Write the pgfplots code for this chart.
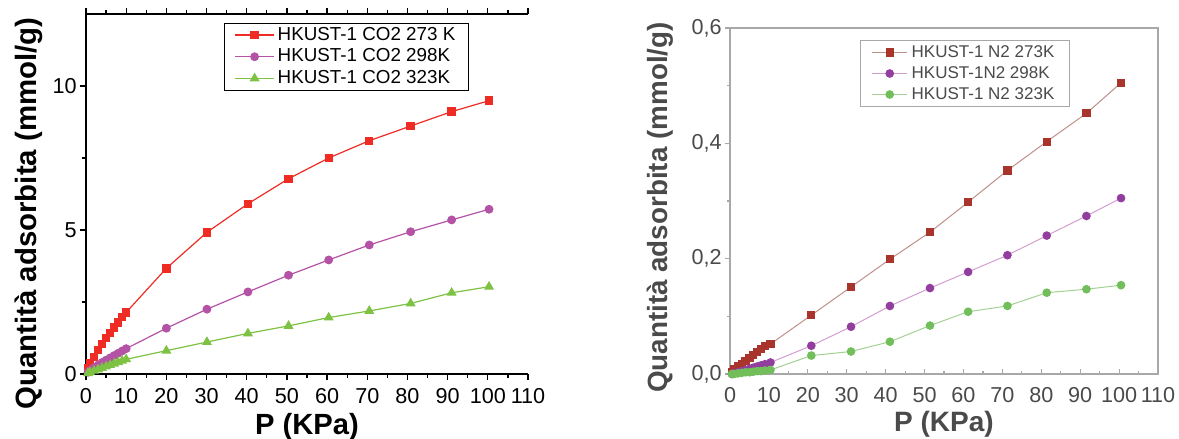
\documentclass[border=0pt]{standalone}
\usepackage{pgfplots}
\pgfplotsset{compat=1.18}
\usepackage{pgfplotstable}
\usepackage{fontspec}
\setmainfont{Liberation Sans}

\definecolor{cred}{HTML}{EE2C24}
\definecolor{cpur}{HTML}{B453A6}
\definecolor{cgrn}{HTML}{7DC242}
\definecolor{nred}{HTML}{A8342C}
\definecolor{npur}{HTML}{923E9E}
\definecolor{ngrn}{HTML}{72BE5A}
\definecolor{nredl}{HTML}{BF8F8A}
\definecolor{npurl}{HTML}{D39ECF}
\definecolor{ngrnl}{HTML}{A3D194}
\definecolor{raxis}{HTML}{A8A8A8}
\definecolor{rtext}{HTML}{4A4A4A}

\pgfplotstableread{
x y
0.5 0.20
1 0.36
2 0.60
3 0.83
4 1.04
5 1.24
6 1.43
7 1.61
8 1.79
9 1.97
10 2.14
20 3.67
30.1 4.92
40.3 5.91
50.4 6.78
60.4 7.50
70.5 8.10
80.8 8.61
91.0 9.11
100.3 9.49
}\coA
\pgfplotstableread{
x y
0.5 0.06
1 0.12
2 0.22
3 0.31
4 0.40
5 0.48
6 0.56
7 0.64
8 0.72
9 0.80
10 0.88
20 1.59
30.1 2.25
40.3 2.85
50.4 3.43
60.4 3.96
70.5 4.48
80.8 4.94
91.0 5.35
100.3 5.72
}\coB
\pgfplotstableread{
x y
0.5 0.03
1 0.06
2 0.11
3 0.16
4 0.21
5 0.26
6 0.31
7 0.36
8 0.41
9 0.46
10 0.51
20 0.81
30.1 1.11
40.3 1.41
50.4 1.67
60.4 1.96
70.5 2.19
80.8 2.45
91.0 2.82
100.3 3.03
}\coC
\pgfplotstableread{
x y
0.5 0.004
1 0.008
2 0.013
3 0.018
4 0.023
5 0.028
6 0.033
7 0.038
8 0.043
9 0.048
10.4 0.052
20.9 0.102
31.1 0.151
41.1 0.199
51.4 0.246
61.2 0.298
71.3 0.353
81.4 0.403
91.6 0.452
100.5 0.505
}\nA
\pgfplotstableread{
x y
0.5 0.000
1 0.001
2 0.003
3 0.005
4 0.007
5 0.009
6 0.011
7 0.013
8 0.015
9 0.017
10.4 0.020
20.9 0.049
31.1 0.082
41.1 0.118
51.4 0.149
61.2 0.177
71.3 0.206
81.4 0.240
91.6 0.274
100.5 0.305
}\nB
\pgfplotstableread{
x y
0.5 0.000
1 0.000
2 0.001
3 0.002
4 0.003
5 0.003
6 0.004
7 0.005
8 0.005
9 0.006
10.4 0.007
20.9 0.032
31.1 0.039
41.1 0.056
51.4 0.084
61.2 0.108
71.3 0.118
81.4 0.141
91.6 0.147
100.5 0.154
}\nC

\begin{document}
\begin{tikzpicture}
\useasboundingbox (0,0) rectangle (589.5bp,219.5bp);
% ---------------- left: CO2
\begin{axis}[
  at={(43bp,32.5bp)}, anchor=south west,
  scale only axis, width=221bp, height=180bp,
  xmin=0, xmax=110, ymin=0, ymax=12.5,
  xtick={0,10,...,110}, ytick={0,5,10},
  minor x tick num=1, minor y tick num=1,
  axis y line*=left,
  axis line style={line width=0.6bp},
  every tick/.style={black, line width=0.6bp},
  xtick align=outside, ytick align=outside,
  major tick length=3bp, minor tick length=2bp,
  /pgf/number format/assume math mode=true,
  tick label style={font=\fontsize{10.8bp}{12bp}\selectfont},
  xticklabel style={yshift=-0.5bp},
  yticklabel style={inner xsep=1.5bp},
  xlabel={P (KPa)},
  ylabel={Quantità adsorbita (mmol/g)},
  xlabel style={font=\bfseries\fontsize{14.6bp}{16bp}\selectfont, at={(axis description cs:0.5,0)}, anchor=base, yshift=-30bp},
  ylabel style={font=\bfseries\fontsize{14.7bp}{16bp}\selectfont, at={(axis description cs:-0.113,0.446)}, anchor=base},
  legend image code/.code={\draw[mark repeat=2,mark phase=2] plot coordinates {(0bp,0bp) (9.75bp,0bp) (19.5bp,0bp)};},
  legend style={at={(0.312,0.976)}, anchor=north west, draw=black, line width=0.6bp,
    font=\fontsize{9.4bp}{10bp}\selectfont, inner xsep=5bp, inner ysep=1.4bp, row sep=1.85bp,
    nodes={inner xsep=1.5bp, inner ysep=0pt, text height=7bp, text depth=2bp}, cells={anchor=west}},
  legend cell align=left,
]
\addplot[cred, line width=0.6bp, mark=square*, mark size=1.8bp, mark options={solid}] table {\coA};
\addlegendentry{HKUST-1 CO2 273 K}
\addplot[cpur, line width=0.6bp, mark=*, mark size=1.9bp, mark options={solid}] table {\coB};
\addlegendentry{HKUST-1 CO2 298K}
\addplot[cgrn, line width=0.6bp, mark=triangle*, mark size=2.3bp, mark options={solid}] table {\coC};
\addlegendentry{HKUST-1 CO2 323K}
\end{axis}
% ---------------- right: N2
\begin{axis}[
  at={(365bp,32.5bp)}, anchor=south west,
  scale only axis, width=214bp, height=173bp,
  xmin=0, xmax=110, ymin=0, ymax=0.6,
  xtick={0,10,...,110}, ytick={0,0.2,0.4,0.6},
  minor x tick num=1, minor y tick num=1,
  axis line style={raxis, line width=0.8bp},
  every tick/.style={raxis, line width=0.6bp},
  xtick align=inside, ytick align=outside,
  major tick length=2.5bp, minor tick length=1.5bp,
  xtick pos=bottom, ytick pos=left,
  /pgf/number format/assume math mode=true,
  y tick label style={/pgf/number format/use comma, /pgf/number format/fixed, /pgf/number format/fixed zerofill, /pgf/number format/precision=1},
  tick label style={font=\fontsize{10.8bp}{12bp}\selectfont, text=rtext},
  xticklabel style={yshift=-3bp},
  yticklabel style={inner xsep=1.5bp},
  xlabel={P (KPa)},
  ylabel={Quantità adsorbita (mmol/g)},
  xlabel style={font=\bfseries\fontsize{14bp}{15bp}\selectfont, text=rtext, at={(axis description cs:0.5,0)}, anchor=base, yshift=-28.5bp},
  ylabel style={font=\bfseries\fontsize{13.9bp}{15bp}\selectfont, text=rtext, at={(axis description cs:-0.147,0.481)}, anchor=base},
  legend image code/.code={\draw[mark repeat=2,mark phase=2] plot coordinates {(0bp,0bp) (8.75bp,0bp) (17.5bp,0bp)};},
  legend style={at={(0.304,0.965)}, anchor=north west, draw=raxis, line width=0.6bp,
    font=\fontsize{8.5bp}{10bp}\selectfont, text=rtext, inner xsep=5.5bp, inner ysep=1.6bp, row sep=1.9bp,
    nodes={inner xsep=2bp, inner ysep=0pt, text height=6.6bp, text depth=2bp}, cells={anchor=west}},
  legend cell align=left,
]
\addplot[nredl, line width=0.5bp, mark=square*, mark size=1.8bp, mark options={solid, nred, fill=nred}] table {\nA};
\addlegendentry{HKUST-1 N2 273K}
\addplot[npurl, line width=0.5bp, mark=*, mark size=1.9bp, mark options={solid, npur, fill=npur}] table {\nB};
\addlegendentry{HKUST-1N2 298K}
\addplot[ngrnl, line width=0.5bp, mark=*, mark size=1.9bp, mark options={solid, ngrn, fill=ngrn}] table {\nC};
\addlegendentry{HKUST-1 N2 323K}
\end{axis}
\end{tikzpicture}
\end{document}
